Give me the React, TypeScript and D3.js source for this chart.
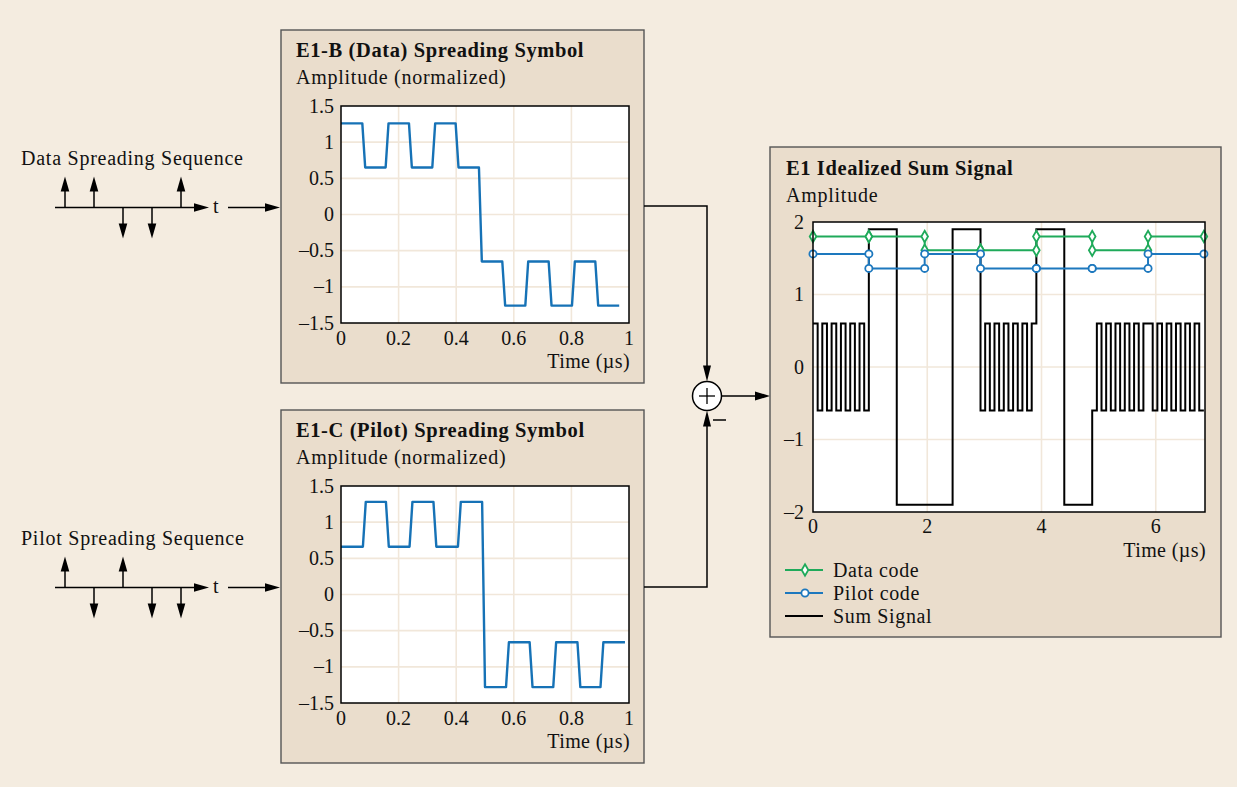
import React from 'react';
import * as d3 from 'd3';

// ---------- data ----------
const dataSeqValues = [1, 1, -1, -1, 1];
const pilotSeqValues = [1, -1, 1, -1, -1];

const symbolTicksX = [0, 0.2, 0.4, 0.6, 0.8, 1];
const symbolTickLabelsX = ['0', '0.2', '0.4', '0.6', '0.8', '1'];
const symbolTicksY = [1.5, 1, 0.5, 0, -0.5, -1, -1.5];
const symbolTickLabelsY = ['1.5', '1', '0.5', '0', '–0.5', '–1', '–1.5'];

const dataSymbolEdges = [0, 0.079, 0.16, 0.241, 0.322, 0.403, 0.484, 0.565, 0.645, 0.726, 0.807, 0.888, 0.966];
const dataSymbolLevels = [1.26, 0.65, 1.26, 0.65, 1.26, 0.65, -0.65, -1.26, -0.65, -1.26, -0.65, -1.26];
const pilotSymbolEdges = [0, 0.081, 0.161, 0.243, 0.326, 0.411, 0.495, 0.578, 0.66, 0.742, 0.826, 0.906, 0.986];
const pilotSymbolLevels = [0.66, 1.28, 0.66, 1.28, 0.66, 1.28, -1.28, -0.66, -1.28, -0.66, -1.28, -0.66];

const chipEdges = [0, 0.9775, 1.955, 2.9325, 3.91, 4.8875, 5.865, 6.8425];
const dataCodeLevels = [1.8, 1.8, 1.61, 1.61, 1.8, 1.61, 1.8];
const pilotCodeLevels = [1.56, 1.36, 1.56, 1.36, 1.36, 1.36, 1.56];
const sumSignalLevels = [
  // chip 0
  0.6, -0.6, 0.6, -0.6, 0.6, -0.6, 0.6, -0.6, 0.6, -0.6, 0.6, -0.6,
  // chip 1
  1.9, 1.9, 1.9, 1.9, 1.9, 1.9, -1.9, -1.9, -1.9, -1.9, -1.9, -1.9,
  // chip 2
  -1.9, -1.9, -1.9, -1.9, -1.9, -1.9, 1.9, 1.9, 1.9, 1.9, 1.9, 1.9,
  // chip 3
  -0.6, 0.6, -0.6, 0.6, -0.6, 0.6, -0.6, 0.6, -0.6, 0.6, -0.6, 0.6,
  // chip 4
  1.9, 1.9, 1.9, 1.9, 1.9, 1.9, -1.9, -1.9, -1.9, -1.9, -1.9, -1.9,
  // chip 5
  -0.6, 0.6, -0.6, 0.6, -0.6, 0.6, -0.6, 0.6, -0.6, 0.6, -0.6, 0.6,
  // chip 6
  0.6, -0.6, 0.6, -0.6, 0.6, -0.6, 0.6, -0.6, 0.6, -0.6, 0.6, -0.6,
];
const subchipsPerChip = 12;
const sumTicksX = [0, 2, 4, 6];
const sumTicksY = [2, 1, 0, -1, -2];
const sumTickLabelsY = ['2', '1', '0', '–1', '–2'];
const legendLabels = ['Data code', 'Pilot code', 'Sum Signal'];

// ---------- style ----------
const FONT = '"Liberation Serif", "Times New Roman", serif';
const BG = '#f4ece0';
const BOX = '#eaddcc';
const BOXSTROKE = '#555';
const GRID = '#f1e7da';
const SYMBLUE = '#1672b6';
const GREEN = '#1faa5a';
const PBLUE = '#1d78be';
const FS = 20;
const LS = 0.75;

function arrowHead(tx: number, ty: number, dir: 'up' | 'down' | 'right', len = 15, half = 4.3) {
  if (dir === 'up') return `M${tx},${ty}L${tx - half},${ty + len}L${tx + half},${ty + len}Z`;
  if (dir === 'down') return `M${tx},${ty}L${tx - half},${ty - len}L${tx + half},${ty - len}Z`;
  return `M${tx},${ty}L${tx - len},${ty - half}L${tx - len},${ty + half}Z`;
}

function rampPath(edges: number[], levels: number[], x: d3.ScaleLinear<number, number>, y: d3.ScaleLinear<number, number>) {
  const r = 0.005;
  const pts: [number, number][] = [[edges[0], levels[0]]];
  for (let i = 1; i < levels.length; i++) {
    pts.push([edges[i] - r, levels[i - 1]]);
    pts.push([edges[i] + r, levels[i]]);
  }
  pts.push([edges[edges.length - 1], levels[levels.length - 1]]);
  return d3.line<[number, number]>().x(d => x(d[0])).y(d => y(d[1]))(pts) || '';
}

function SymbolPanel({ top, title, edges, levels }: { top: number; title: string; edges: number[]; levels: number[] }) {
  const left = 281;
  const pl = 341, pr = 629, pt = top + 76, pb = top + 293;
  const x = d3.scaleLinear().domain([0, 1]).range([pl, pr]);
  const y = d3.scaleLinear().domain([-1.5, 1.5]).range([pb, pt]);
  return (
    <g>
      <rect x={left} y={top} width={363} height={353} fill={BOX} stroke={BOXSTROKE} strokeWidth={1.4} />
      <text x={296} y={top + 27} fontFamily={FONT} fontSize={20.5} fontWeight="bold" letterSpacing={0.6} fill="#111">{title}</text>
      <text x={296} y={top + 54} fontFamily={FONT} fontSize={FS} letterSpacing={LS} fill="#111">Amplitude (normalized)</text>
      <rect x={pl} y={pt} width={pr - pl} height={pb - pt} fill="#fff" />
      {symbolTicksX.slice(1, -1).map(v => (
        <line key={'gx' + v} x1={x(v)} x2={x(v)} y1={pt} y2={pb} stroke={GRID} strokeWidth={1.6} />
      ))}
      {symbolTicksY.slice(1, -1).map(v => (
        <line key={'gy' + v} x1={pl} x2={pr} y1={y(v)} y2={y(v)} stroke={GRID} strokeWidth={1.6} />
      ))}
      <path d={rampPath(edges, levels, x, y)} fill="none" stroke={SYMBLUE} strokeWidth={2.4} strokeLinejoin="round" />
      <rect x={pl} y={pt} width={pr - pl} height={pb - pt} fill="none" stroke="#000" strokeWidth={1.5} />
      {symbolTicksY.map((v, i) => (
        <text key={'ty' + v} x={pl - 7} y={y(v)} dy="0.33em" textAnchor="end" fontFamily={FONT} fontSize={FS} fill="#111">{symbolTickLabelsY[i]}</text>
      ))}
      {symbolTicksX.map((v, i) => (
        <text key={'tx' + v} x={x(v)} y={pb + 22} textAnchor="middle" fontFamily={FONT} fontSize={FS} fill="#111">{symbolTickLabelsX[i]}</text>
      ))}
      <text x={pr + 1} y={pb + 45} textAnchor="end" fontFamily={FONT} fontSize={FS} letterSpacing={0.4} fill="#111">Time (µs)</text>
    </g>
  );
}

function Sequence({ baseY, label, values }: { baseY: number; label: string; values: number[] }) {
  const sx = d3.scaleLinear().domain([0, values.length - 1]).range([65, 181]);
  const stem = 31;
  return (
    <g>
      <text x={21} y={baseY - 43} fontFamily={FONT} fontSize={FS} letterSpacing={LS} fill="#111">{label}</text>
      <line x1={55} x2={198} y1={baseY} y2={baseY} stroke="#000" strokeWidth={1.5} />
      <path d={arrowHead(209, baseY, 'right')} fill="#000" />
      {values.map((v, i) => {
        const xx = sx(i);
        const tip = baseY - v * stem;
        return (
          <g key={i}>
            <line x1={xx} x2={xx} y1={baseY} y2={tip + (v > 0 ? 10 : -10)} stroke="#000" strokeWidth={1.5} />
            <path d={arrowHead(xx, tip, v > 0 ? 'up' : 'down')} fill="#000" />
          </g>
        );
      })}
      <text x={213} y={baseY + 5} fontFamily={FONT} fontSize={FS} fill="#111">t</text>
      <line x1={228} x2={270} y1={baseY} y2={baseY} stroke="#000" strokeWidth={1.5} />
      <path d={arrowHead(280, baseY, 'right')} fill="#000" />
    </g>
  );
}

function SumPanel() {
  const left = 770, top = 147;
  const pl = 813, pr = 1205, pt = 222, pb = 512;
  const x = d3.scaleLinear().domain([0, 6.862]).range([pl, pr]);
  const y = d3.scaleLinear().domain([-2, 2]).range([pb, pt]);

  const stairs = (levels: number[]) => {
    const pts: [number, number][] = [[chipEdges[0], levels[0]]];
    for (let c = 1; c < levels.length; c++) {
      pts.push([chipEdges[c], levels[c - 1]]);
      pts.push([chipEdges[c], levels[c]]);
    }
    pts.push([chipEdges[levels.length], levels[levels.length - 1]]);
    return pts;
  };
  const dataPts = stairs(dataCodeLevels);
  const pilotPts = stairs(pilotCodeLevels);
  const line = d3.line<[number, number]>().x(d => x(d[0])).y(d => y(d[1]));

  const sumPts: [number, number][] = [];
  sumSignalLevels.forEach((v, k) => {
    const c = Math.floor(k / subchipsPerChip);
    const j = k % subchipsPerChip;
    const t = chipEdges[c] + (j * (chipEdges[c + 1] - chipEdges[c])) / subchipsPerChip;
    sumPts.push([t, v]);
  });
  sumPts.push([chipEdges[chipEdges.length - 1], sumSignalLevels[sumSignalLevels.length - 1]]);
  const sumLine = d3.line<[number, number]>().x(d => x(d[0])).y(d => y(d[1])).curve(d3.curveStepAfter);

  const diamond = d3.symbol().type(d3.symbolDiamond).size(38)() || '';

  return (
    <g>
      <rect x={left} y={top} width={451} height={490} fill={BOX} stroke={BOXSTROKE} strokeWidth={1.4} />
      <text x={786} y={175} fontFamily={FONT} fontSize={20.5} fontWeight="bold" letterSpacing={0.6} fill="#111">E1 Idealized Sum Signal</text>
      <text x={786} y={202} fontFamily={FONT} fontSize={FS} letterSpacing={LS} fill="#111">Amplitude</text>
      <rect x={pl} y={pt} width={pr - pl} height={pb - pt} fill="#fff" />
      {sumTicksX.slice(1).map(v => (
        <line key={'gx' + v} x1={x(v)} x2={x(v)} y1={pt} y2={pb} stroke={GRID} strokeWidth={1.6} />
      ))}
      {sumTicksY.slice(1, -1).map(v => (
        <line key={'gy' + v} x1={pl} x2={pr} y1={y(v)} y2={y(v)} stroke={GRID} strokeWidth={1.6} />
      ))}
      <path d={sumLine(sumPts) || ''} fill="none" stroke="#000" strokeWidth={2} />
      <path d={line(dataPts) || ''} fill="none" stroke={GREEN} strokeWidth={2} />
      {dataPts.map((p, i) => (
        <path key={'dm' + i} d={diamond} transform={`translate(${x(p[0])},${y(p[1])})`} fill="#fff" stroke={GREEN} strokeWidth={1.8} />
      ))}
      <path d={line(pilotPts) || ''} fill="none" stroke={PBLUE} strokeWidth={2} />
      {pilotPts.map((p, i) => (
        <circle key={'pm' + i} cx={x(p[0])} cy={y(p[1])} r={3.6} fill="#fff" stroke={PBLUE} strokeWidth={1.8} />
      ))}
      <rect x={pl} y={pt} width={pr - pl} height={pb - pt} fill="none" stroke="#000" strokeWidth={1.5} />
      {sumTicksY.map((v, i) => (
        <text key={'ty' + v} x={pl - 9} y={y(v)} dy="0.33em" textAnchor="end" fontFamily={FONT} fontSize={FS} fill="#111">{sumTickLabelsY[i]}</text>
      ))}
      {sumTicksX.map(v => (
        <text key={'tx' + v} x={x(v)} y={pb + 21} textAnchor="middle" fontFamily={FONT} fontSize={FS} fill="#111">{String(v)}</text>
      ))}
      <text x={pr + 1} y={pb + 45} textAnchor="end" fontFamily={FONT} fontSize={FS} letterSpacing={0.4} fill="#111">Time (µs)</text>
      {/* legend */}
      {legendLabels.map((lab, i) => {
        const ly = 570 + i * 23;
        const col = i === 0 ? GREEN : i === 1 ? PBLUE : '#000';
        return (
          <g key={lab}>
            <line x1={785} x2={823} y1={ly} y2={ly} stroke={col} strokeWidth={2} />
            {i === 0 && <path d={diamond} transform={`translate(805,${ly})`} fill="#fff" stroke={GREEN} strokeWidth={1.8} />}
            {i === 1 && <circle cx={805} cy={ly} r={3.6} fill="#fff" stroke={PBLUE} strokeWidth={1.8} />}
            <text x={833} y={ly + 6.5} fontFamily={FONT} fontSize={FS} letterSpacing={0.65} fill="#111">{lab}</text>
          </g>
        );
      })}
    </g>
  );
}

export default function App() {
  const cx = 707, cy = 396, r = 14.5;
  return (
    <svg width={1237} height={787} style={{ position: 'absolute', left: 0, top: 0, display: 'block' }}>
      <rect x={0} y={0} width={1237} height={787} fill={BG} />
      <Sequence baseY={207.5} label="Data Spreading Sequence" values={dataSeqValues} />
      <Sequence baseY={587.5} label="Pilot Spreading Sequence" values={pilotSeqValues} />
      <SymbolPanel top={30} title="E1-B (Data) Spreading Symbol" edges={dataSymbolEdges} levels={dataSymbolLevels} />
      <SymbolPanel top={410} title="E1-C (Pilot) Spreading Symbol" edges={pilotSymbolEdges} levels={pilotSymbolLevels} />
      {/* summing junction */}
      <path d={`M644,206H${cx}V${cy - r - 12}`} fill="none" stroke="#000" strokeWidth={1.5} />
      <path d={arrowHead(cx, cy - r, 'down', 16, 4)} fill="#000" />
      <path d={`M644,587H${cx}V${cy + r + 12}`} fill="none" stroke="#000" strokeWidth={1.5} />
      <path d={arrowHead(cx, cy + r, 'up', 16, 4)} fill="#000" />
      <circle cx={cx} cy={cy} r={r} fill="#fff" stroke="#000" strokeWidth={1.5} />
      <line x1={cx - 8} x2={cx + 8} y1={cy} y2={cy} stroke="#000" strokeWidth={1.3} />
      <line x1={cx} x2={cx} y1={cy - 8} y2={cy + 8} stroke="#000" strokeWidth={1.3} />
      <line x1={713} x2={726} y1={420} y2={420} stroke="#000" strokeWidth={1.5} />
      <line x1={cx + r} x2={758} y1={cy} y2={cy} stroke="#000" strokeWidth={1.5} />
      <path d={arrowHead(770, cy, 'right', 15, 4.5)} fill="#000" />
      <SumPanel />
    </svg>
  );
}
